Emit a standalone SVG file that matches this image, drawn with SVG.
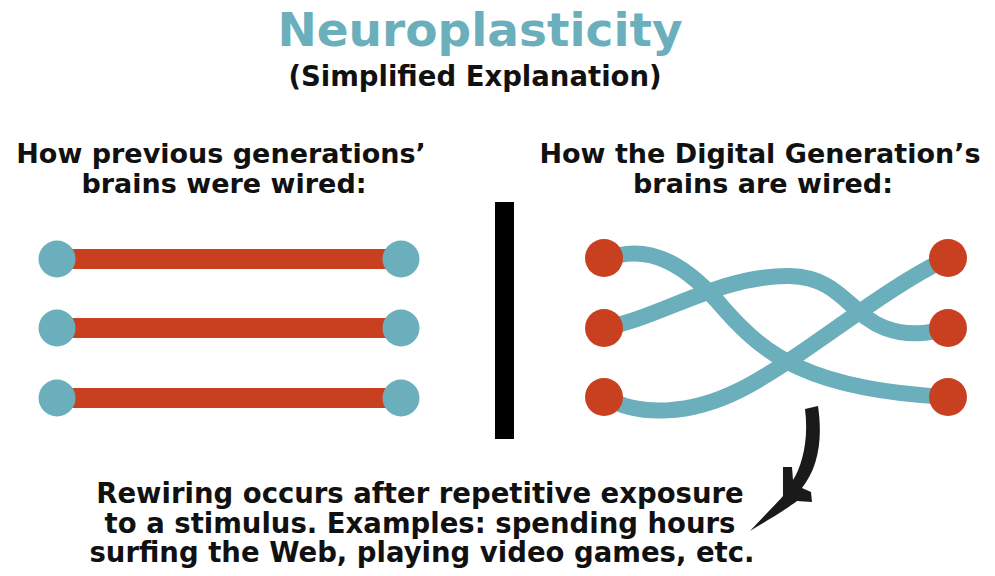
<svg xmlns="http://www.w3.org/2000/svg" width="995" height="576" viewBox="0 0 995 576">
<style>
text{font-family:"DejaVu Sans","Verdana",sans-serif;font-weight:bold;text-anchor:middle;fill:#111}
.title{fill:#6AAFBB;font-size:47px}
.sub{font-size:27.5px}
.head{font-size:27px}
.foot{font-size:27.5px}
.teal{fill:#6AAFBB}
.red{fill:#C8401F}
.wire{fill:none;stroke:#6AAFBB;stroke-width:16;stroke-linecap:round}
.bar{fill:#C8401F}
</style>
<rect width="995" height="576" fill="#fff"/>
<g id="title">
<text class="title" x="480" y="46">Neuroplasticity</text>
<text class="sub" x="475" y="86">(Simplified Explanation)</text>
</g>
<g id="left-heading">
<text class="head" x="221" y="163">How previous generations’</text>
<text class="head" x="224" y="193">brains were wired:</text>
</g>
<g id="right-heading">
<text class="head" x="760" y="163">How the Digital Generation’s</text>
<text class="head" x="763" y="193">brains are wired:</text>
</g>
<g id="divider"><rect x="495" y="202" width="19" height="237" fill="#000"/></g>
<g id="connectors">
<rect class="bar" x="57" y="249" width="344" height="20"/>
<rect class="bar" x="57" y="318" width="344" height="20"/>
<rect class="bar" x="57" y="388" width="344" height="20"/>
<path class="wire" d="M604,260 C650,240 690,268 725,310 C765,355 810,390 948,397"/>
<path class="wire" d="M604,328 C660,318 720,275 790,276 C840,277 850,315 885,328 C910,337 930,333 948,328"/>
<path class="wire" d="M604,397 C640,417 690,415 740,390 C800,360 880,290 948,258"/>
<path id="arrow" fill="#1a1a1a" d="M805,409 L818,406 C823,440 818,468 802,488 L811,492 L812,502 L797,501 C785,510 765,522 750,531 C762,518 775,505 783,496 L783,467 L792,467 L793,480 C802,466 809,440 805,409 Z"/>
</g>
<g id="old-nodes">
<circle class="teal" cx="57" cy="259" r="18.5"/>
<circle class="teal" cx="401" cy="259" r="18.5"/>
<circle class="teal" cx="57" cy="328" r="18.5"/>
<circle class="teal" cx="401" cy="328" r="18.5"/>
<circle class="teal" cx="57" cy="398" r="18.5"/>
<circle class="teal" cx="401" cy="398" r="18.5"/>
</g>
<g id="new-nodes">
<circle class="red" cx="604" cy="258" r="19"/>
<circle class="red" cx="948" cy="258" r="19"/>
<circle class="red" cx="604" cy="328" r="19"/>
<circle class="red" cx="948" cy="328" r="19"/>
<circle class="red" cx="604" cy="397" r="19"/>
<circle class="red" cx="948" cy="397" r="19"/>
</g>
<g id="caption">
<text class="foot" x="420" y="503">Rewiring occurs after repetitive exposure</text>
<text class="foot" x="420" y="533">to a stimulus. Examples: spending hours</text>
<text class="foot" x="422" y="562">surfing the Web, playing video games, etc.</text>
</g>
</svg>
